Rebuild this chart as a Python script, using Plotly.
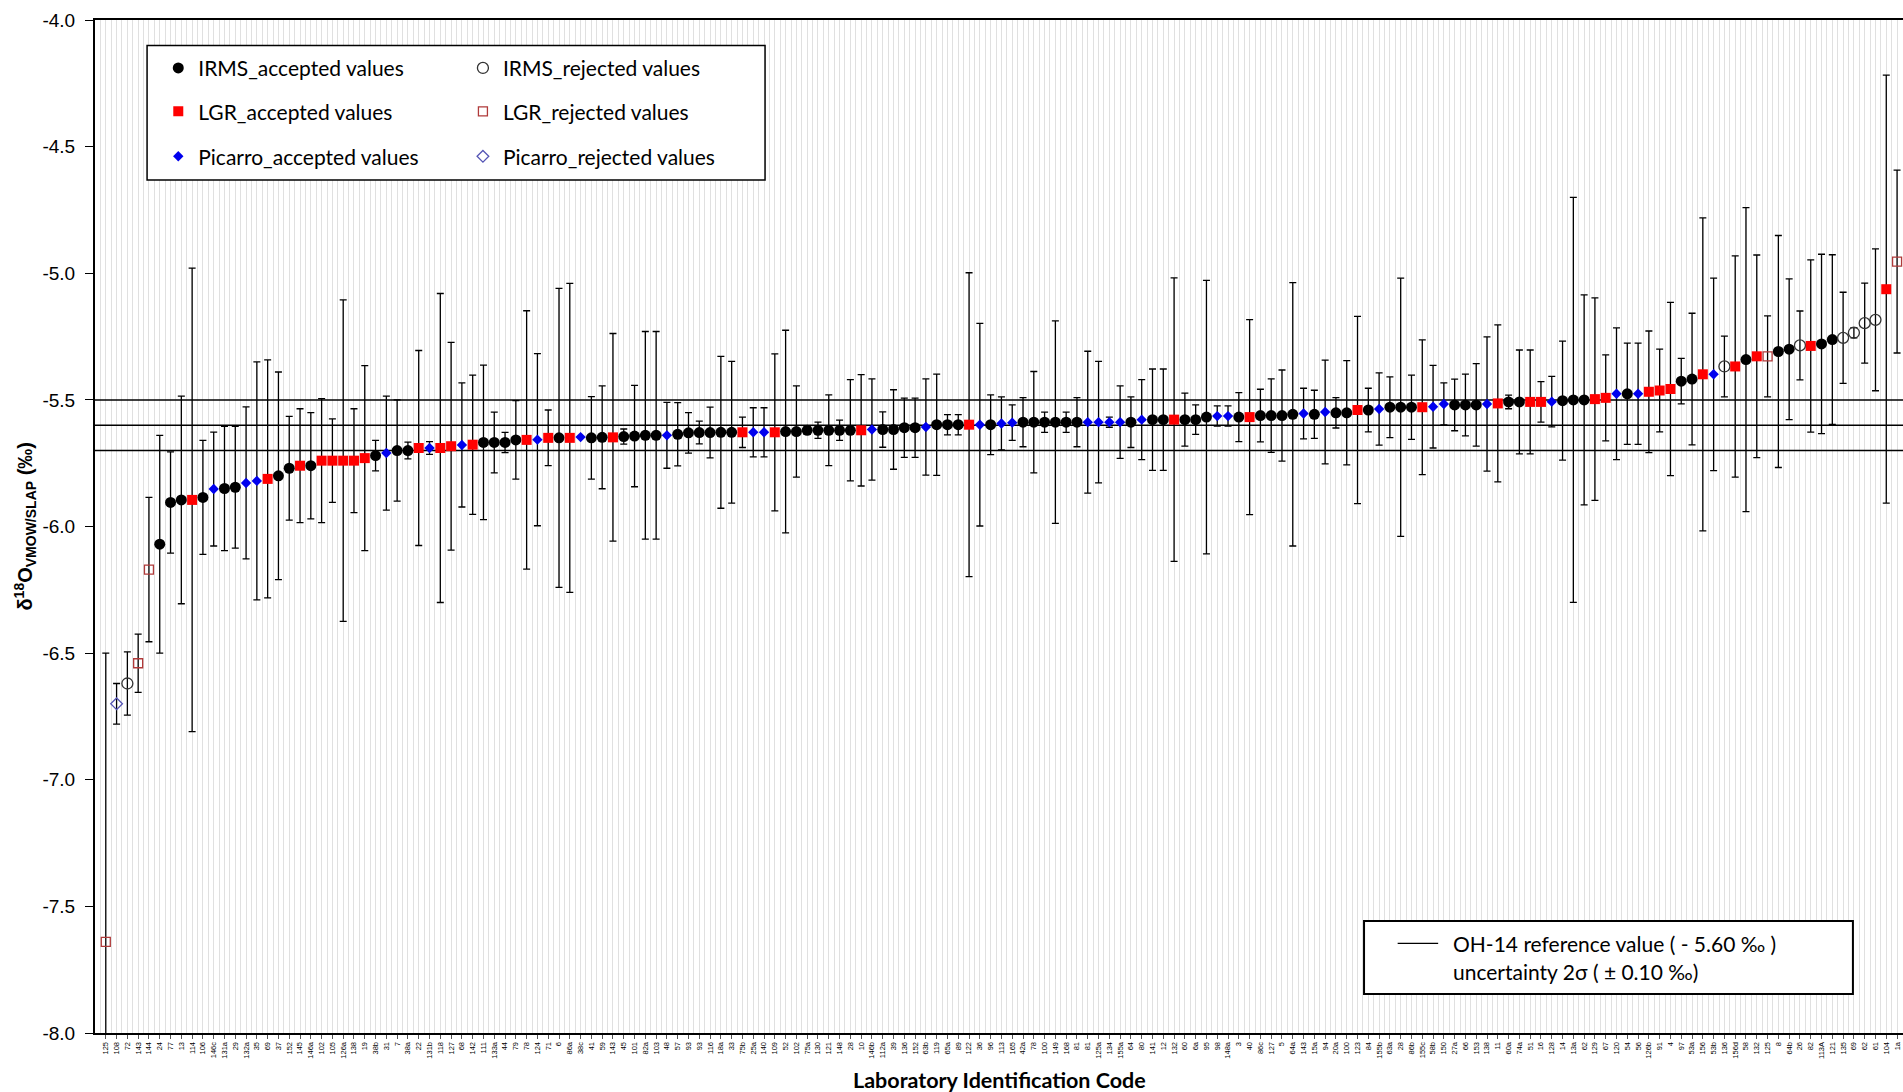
import plotly.graph_objects as go

# Laboratory codes, in plotting order (sorted by reported delta value)
lab_codes = [
    "125", "108", "72", "143", "144", "24", "77", "13", "114", "106",
    "146c", "131a", "29", "132a", "35", "69", "37", "152", "145", "146a",
    "102", "105", "126a", "138", "19", "38b", "31", "7", "38a", "22",
    "131b", "118", "127", "68", "142", "111", "133a", "44", "79", "78",
    "124", "71", "6", "86a", "38c", "41", "59", "143", "45", "101",
    "82a", "103", "48", "57", "93", "93", "116", "18a", "33", "75b",
    "25a", "140", "109", "52", "102", "75a", "130", "121", "148", "28",
    "10", "146b", "112a", "39", "136", "152", "63b", "119", "65a", "89",
    "122", "36", "96", "113", "165", "42a", "78", "100", "149", "168",
    "81", "81", "125a", "134", "155a", "64", "80", "141", "12", "132",
    "60", "6a", "95", "98", "148a", "3", "40", "86c", "127", "5",
    "64a", "143", "15a", "94", "20a", "100", "123", "84", "155b", "63a",
    "28", "86b", "155c", "58b", "150", "27a", "66", "153", "138", "11",
    "60a", "74a", "51", "16", "128", "14", "13a", "62", "129", "67",
    "120", "54", "56", "126b", "91", "4", "97", "53a", "156", "53b",
    "136", "156d", "58", "132", "125", "8", "64b", "26", "82", "113A",
    "121", "135", "69", "62", "61", "104", "1a",
]

# Reported delta18O (per mil)
d18o = [
    -7.64, -6.70, -6.62, -6.54, -6.17, -6.07, -5.905, -5.895, -5.895, -5.885,
    -5.852, -5.85, -5.845, -5.828, -5.82, -5.812, -5.80, -5.77, -5.76, -5.76,
    -5.74, -5.74, -5.74, -5.74, -5.73, -5.72, -5.71, -5.70, -5.70, -5.69,
    -5.69, -5.69, -5.683, -5.678, -5.677, -5.668, -5.668, -5.668, -5.658, -5.658,
    -5.657, -5.65, -5.65, -5.65, -5.647, -5.65, -5.648, -5.648, -5.645, -5.643,
    -5.64, -5.64, -5.64, -5.636, -5.63, -5.629, -5.629, -5.628, -5.628, -5.628,
    -5.628, -5.628, -5.628, -5.625, -5.625, -5.62, -5.62, -5.62, -5.62, -5.62,
    -5.62, -5.617, -5.617, -5.617, -5.61, -5.61, -5.607, -5.598, -5.598, -5.598,
    -5.598, -5.598, -5.598, -5.593, -5.59, -5.588, -5.588, -5.588, -5.588, -5.588,
    -5.588, -5.588, -5.588, -5.588, -5.588, -5.588, -5.578, -5.578, -5.578, -5.578,
    -5.578, -5.578, -5.568, -5.564, -5.564, -5.568, -5.568, -5.562, -5.562, -5.562,
    -5.557, -5.554, -5.557, -5.548, -5.551, -5.551, -5.54, -5.54, -5.536, -5.529,
    -5.529, -5.529, -5.529, -5.527, -5.516, -5.52, -5.52, -5.52, -5.516, -5.514,
    -5.508, -5.508, -5.508, -5.508, -5.507, -5.503, -5.50, -5.50, -5.497, -5.492,
    -5.476, -5.476, -5.476, -5.468, -5.463, -5.457, -5.426, -5.418, -5.399, -5.399,
    -5.368, -5.368, -5.341, -5.328, -5.328, -5.309, -5.30, -5.285, -5.287, -5.279,
    -5.262, -5.255, -5.235, -5.197, -5.184, -5.063, -4.954,
]

# Expanded uncertainty (per mil), drawn as symmetric error bars
unc = [
    1.14, 0.08, 0.125, 0.115, 0.285, 0.43, 0.20, 0.41, 0.915, 0.225,
    0.225, 0.245, 0.24, 0.30, 0.47, 0.47, 0.41, 0.205, 0.225, 0.21,
    0.245, 0.165, 0.635, 0.205, 0.365, 0.06, 0.225, 0.20, 0.033, 0.385,
    0.025, 0.61, 0.41, 0.245, 0.275, 0.305, 0.12, 0.04, 0.155, 0.51,
    0.34, 0.11, 0.59, 0.61, 0.0, 0.163, 0.203, 0.41, 0.03, 0.20,
    0.41, 0.41, 0.13, 0.125, 0.08, 0.045, 0.10, 0.30, 0.28, 0.06,
    0.097, 0.097, 0.31, 0.40, 0.18, 0.015, 0.032, 0.14, 0.04, 0.20,
    0.22, 0.20, 0.07, 0.157, 0.117, 0.117, 0.19, 0.20, 0.04, 0.04,
    0.60, 0.40, 0.118, 0.105, 0.07, 0.097, 0.20, 0.04, 0.40, 0.04,
    0.097, 0.28, 0.24, 0.02, 0.143, 0.10, 0.158, 0.20, 0.20, 0.56,
    0.105, 0.058, 0.54, 0.04, 0.04, 0.097, 0.385, 0.104, 0.145, 0.18,
    0.52, 0.10, 0.095, 0.205, 0.06, 0.206, 0.37, 0.086, 0.143, 0.12,
    0.51, 0.127, 0.266, 0.163, 0.083, 0.102, 0.122, 0.163, 0.265, 0.31,
    0.027, 0.205, 0.205, 0.08, 0.10, 0.235, 0.80, 0.415, 0.40, 0.17,
    0.26, 0.20, 0.20, 0.24, 0.163, 0.342, 0.09, 0.26, 0.618, 0.38,
    0.12, 0.437, 0.60, 0.40, 0.16, 0.458, 0.278, 0.136, 0.34, 0.354,
    0.335, 0.18, 0.02, 0.158, 0.28, 0.845, 0.361,
]

# Instrument / outcome per laboratory:
# I = IRMS, L = LGR, P = Picarro; upper case accepted, lower case rejected
result_code = list(
    "lpillIIILIPIIPPLIILILLLLLIPIILPLLPLIIIILPLILPIILIIIIPIIIIIILPPLIIIIIIILPIIIIPIIILPIPPIIIIIIPPPPIPIILIIIPPILIIIIPIPIILIPIIILPPIIIPLIILLPIIILLPIPLLLIILPiLILlIIiLIIiiiiLl"
)

ref_value = -5.60
ref_unc = 0.10

series = [
    # code, name, symbol, size, fill, line color, line width, legend id
    ("I", "IRMS_accepted values", "circle", 11, "#000000", "#000000", 0, "legend"),
    ("i", "IRMS_rejected values", "circle-open", 11, "#333333", "#333333", 1.3, "legend2"),
    ("L", "LGR_accepted values", "square", 10, "#ff0000", "#ff0000", 0, "legend3"),
    ("l", "LGR_rejected values", "square-open", 9, "#b03a3a", "#b03a3a", 1.3, "legend4"),
    ("P", "Picarro_accepted values", "diamond", 8, "#0000ee", "#0000ee", 0, "legend5"),
    ("p", "Picarro_rejected values", "diamond-open", 9, "#5555b5", "#5555b5", 1.3, "legend6"),
]

n = len(lab_codes)
fig = go.Figure()

# reference value and its 2-sigma band, drawn first so the points sit on top
for yv in (ref_value + ref_unc, ref_value, ref_value - ref_unc):
    fig.add_trace(go.Scatter(
        x=[-1.5, n + 0.5], y=[yv, yv], mode="lines",
        line=dict(color="#000000", width=1.5),
        showlegend=False, hoverinfo="skip",
    ))

for code, name, symbol, size, color, lcolor, lw, leg in series:
    idx = [k for k, c in enumerate(result_code) if c == code]
    fig.add_trace(go.Scatter(
        x=idx,
        y=[d18o[k] for k in idx],
        mode="markers",
        name=name,
        legend=leg,
        marker=dict(symbol=symbol, size=size, color=color,
                    line=dict(color=lcolor, width=lw)),
        error_y=dict(type="data", array=[unc[k] for k in idx], visible=True,
                     color="#000000", thickness=1.3, width=3.5),
        cliponaxis=True,
    ))

FONT_AX = "Liberation Sans, Arial, sans-serif"
FONT_TXT = "Lato, Carlito, sans-serif"

# legend frames
shapes = [
    dict(type="rect", xref="paper", yref="paper",
         x0=0.0288, x1=0.3706, y0=0.8421, y1=0.9748,
         fillcolor="white", line=dict(color="#000000", width=1.5), layer="above"),
    dict(type="rect", xref="paper", yref="paper",
         x0=0.7019, x1=0.9723, y0=0.0385, y1=0.1106,
         fillcolor="white", line=dict(color="#000000", width=2), layer="above"),
    dict(type="line", xref="paper", yref="paper",
         x0=0.7205, x1=0.7429, y0=0.0885, y1=0.0885,
         line=dict(color="#000000", width=1.2), layer="above"),
]

annotations = [
    dict(text="OH-14 reference value ( - 5.60 ‰ )", xref="paper", yref="paper",
         x=0.750, y=0.0885, xanchor="left", yanchor="middle", showarrow=False,
         font=dict(family=FONT_TXT, size=21, color="#000000")),
    dict(text="uncertainty 2σ ( ± 0.10 ‰)", xref="paper", yref="paper",
         x=0.750, y=0.0605, xanchor="left", yanchor="middle", showarrow=False,
         font=dict(family=FONT_TXT, size=21, color="#000000")),
    dict(text="<b>Laboratory Identification Code</b>", xref="paper", yref="paper",
         x=0.5, y=-0.0464, xanchor="center", yanchor="middle", showarrow=False,
         font=dict(family=FONT_TXT, size=21.5, color="#000000")),
    dict(text="<b>δ<sup>18</sup>O<sub>VMOW/SLAP</sub> (‰)</b>", xref="paper", yref="paper",
         x=-0.0387, y=0.5, xanchor="center", yanchor="middle", textangle=-90,
         showarrow=False, font=dict(family=FONT_AX, size=20, color="#000000")),
]

legend_style = dict(xanchor="left", yanchor="middle", bgcolor="rgba(0,0,0,0)",
                    borderwidth=0, itemwidth=30,
                    font=dict(family=FONT_TXT, size=21, color="#000000"))
col_x = (0.0350, 0.2035)
row_y = (0.9523, 0.9095, 0.8651)
legends = {}
for j, (_, _, _, _, _, _, _, leg) in enumerate(series):
    legends[leg] = dict(legend_style, x=col_x[j % 2], y=row_y[j // 2])

yticks = [-8.0 + 0.5 * k for k in range(9)]

fig.update_layout(
    width=1903, height=1092,
    margin=dict(l=95, r=0, t=20, b=59),
    paper_bgcolor="white", plot_bgcolor="white",
    showlegend=True,
    shapes=shapes,
    annotations=annotations,
    **legends,
    xaxis=dict(
        range=[-1.0, n - 0.45],
        tickmode="array", tickvals=list(range(n)), ticktext=lab_codes,
        tickangle=-90, tickfont=dict(family=FONT_AX, size=7.5, color="#000000"),
        ticks="outside", ticklen=4, tickcolor="#555555",
        showgrid=True, gridcolor="#e0e0e0", gridwidth=1,
        minor=dict(tickmode="linear", tick0=-0.5, dtick=1, showgrid=True,
                   gridcolor="#e0e0e0", gridwidth=1, ticks=""),
        showline=True, linecolor="#000000", linewidth=2, mirror=True,
        zeroline=False,
    ),
    yaxis=dict(
        range=[-8.0, -4.0],
        tickmode="array", tickvals=yticks, ticktext=[f"{v:.1f}" for v in yticks],
        tickfont=dict(family=FONT_AX, size=19, color="#000000"),
        ticks="outside", ticklen=8, tickcolor="#000000",
        ticklabelstandoff=6,
        showgrid=False, zeroline=False,
        showline=True, linecolor="#000000", linewidth=2, mirror=False,
    ),
)

fig.write_html("out.html")
